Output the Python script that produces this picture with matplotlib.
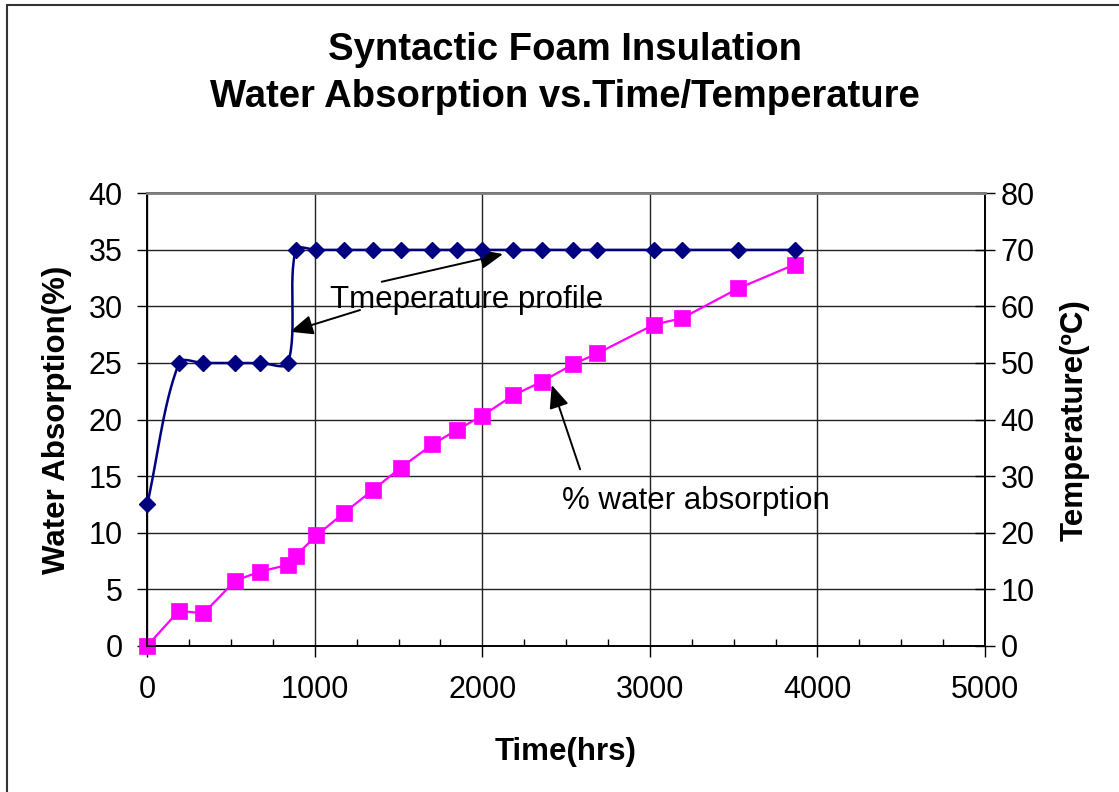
import numpy as np
import matplotlib.pyplot as plt
from matplotlib.patches import Rectangle
from matplotlib.ticker import MultipleLocator

plt.rcParams['font.family'] = ['Liberation Sans', 'DejaVu Sans']

# data
hours = [0, 190, 335, 525, 672, 840, 886, 1010, 1175, 1345, 1513, 1702,
         1850, 1996, 2185, 2355, 2543, 2687, 3025, 3190, 3528, 3863]
water_pct = [0, 3.1, 2.85, 5.75, 6.55, 7.15, 7.95, 9.75, 11.75, 13.75, 15.75, 17.8,
             19.1, 20.3, 22.15, 23.35, 24.9, 25.85, 28.4, 28.95, 31.6, 33.7]
temp_c = [25, 50, 50, 50, 50, 50, 70, 70, 70, 70, 70, 70,
          70, 70, 70, 70, 70, 70, 70, 70, 70, 70]

navy = '#000080'
magenta = '#FF00FF'


def smooth_line(x, y, sx, sy, n=30, k=1 / 3):
    # excel style smoothed line, control arms scaled by segment lengths
    p = np.column_stack([np.asarray(x, float) * sx, np.asarray(y, float) * sy])
    d = np.hypot(*np.diff(p, axis=0).T)
    pts = [p[0]]
    for i in range(len(p) - 1):
        p0 = p[i - 1] if i > 0 else p[i]
        p3 = p[i + 2] if i + 2 < len(p) else p[i + 1]
        dprev = d[i - 1] if i > 0 else 0
        dnext = d[i + 1] if i + 1 < len(d) else 0
        c1 = p[i] + (p[i + 1] - p0) * k * d[i] / (dprev + d[i])
        c2 = p[i + 1] - (p3 - p[i]) * k * d[i] / (d[i] + dnext)
        t = np.linspace(0, 1, n)[1:, None]
        seg = ((1 - t) ** 3 * p[i] + 3 * (1 - t) ** 2 * t * c1
               + 3 * (1 - t) * t ** 2 * c2 + t ** 3 * p[i + 1])
        pts.extend(seg)
    pts = np.array(pts)
    return pts[:, 0] / sx, pts[:, 1] / sy


fig = plt.figure(figsize=(11.19, 7.92), dpi=100)
ax = fig.add_axes([0.1316, 0.1847, 0.7487, 0.5712])
ax2 = ax.twinx()

ax.plot(hours, water_pct, color=magenta, lw=1.6, marker='s', ms=11,
        mec=magenta, mew=0.5, zorder=3, clip_on=False)

sx, sy = 837.7 / 5000, 452.4 / 80
tx, ty = smooth_line(hours, temp_c, sx, sy)
ax2.plot(tx, ty, color=navy, lw=1.8, zorder=3)
ax2.plot(hours, temp_c, ls='none', marker='D', ms=8.5, color=navy, zorder=4,
         clip_on=False)

ax.set_xlim(0, 5000)
ax.set_ylim(0, 40)
ax2.set_ylim(0, 80)
ax.xaxis.set_major_locator(MultipleLocator(1000))
ax.xaxis.set_minor_locator(MultipleLocator(250))
ax.yaxis.set_major_locator(MultipleLocator(5))
ax2.yaxis.set_major_locator(MultipleLocator(10))

ax.grid(True, which='major', color='#222222', lw=1)
ax.set_axisbelow(True)

ax.tick_params(axis='x', which='major', direction='out', length=8, width=1,
               labelsize=22, pad=13)
ax.tick_params(axis='x', which='minor', direction='in', length=5, width=1)
ax.tick_params(axis='y', direction='out', length=7.2, width=1, labelsize=22, pad=10.5)
ax2.tick_params(axis='y', direction='inout', length=14.4, width=1, labelsize=22, pad=4)

for s in ax.spines.values():
    s.set_linewidth(1.2)
for s in ax2.spines.values():
    s.set_linewidth(1.2)
ax2.spines['top'].set_color('#808080')
ax2.spines['top'].set_linewidth(2)

ax.set_xlabel('Time(hrs)', fontsize=22.5, fontweight='bold', va='center')
ax.xaxis.set_label_coords(0.4998, -0.236)
ax.set_ylabel('Water Absorption(%)', fontsize=22.5, fontweight='bold',
              va='center', ha='center')
ax.yaxis.set_label_coords(-0.108, 0.499)
ax2.set_ylabel('Temperature(ºC)', fontsize=22.5, fontweight='bold',
               va='center', ha='center')
ax2.yaxis.set_label_coords(1.1074, 0.499)

fig.text(0.5049, 1 - 50 / 792, 'Syntactic Foam Insulation', fontsize=27.5,
         fontweight='bold', ha='center', va='center')
fig.text(0.5049, 1 - 97 / 792, 'Water Absorption vs.Time/Temperature', fontsize=27.5,
         fontweight='bold', ha='center', va='center')

# callouts
arrow = dict(arrowstyle='-|>,head_length=0.7,head_width=0.3', color='black',
             lw=1.4, mutation_scale=20, shrinkA=0, shrinkB=0)
ax.annotate('', xy=(2123, 34.63), xytext=(1399, 32.18), arrowprops=arrow)
ax.annotate('', xy=(852, 27.76), xytext=(1270, 29.68), arrowprops=arrow)
ax.annotate('', xy=(2414, 23.05), xytext=(2583, 15.6), arrowprops=arrow)
ax.text(1090, 29.86, 'Tmeperature profile', fontsize=22.5, va='baseline', ha='left')
ax.text(2473, 12.06, '% water absorption', fontsize=22.5, va='baseline', ha='left')

fig.add_artist(Rectangle((7 / 1119, -0.1), 2, 1.1 - 5 / 792, transform=fig.transFigure,
                         fill=False, lw=1.5, ec='#333333'))

fig.savefig('out.png', dpi=100)
